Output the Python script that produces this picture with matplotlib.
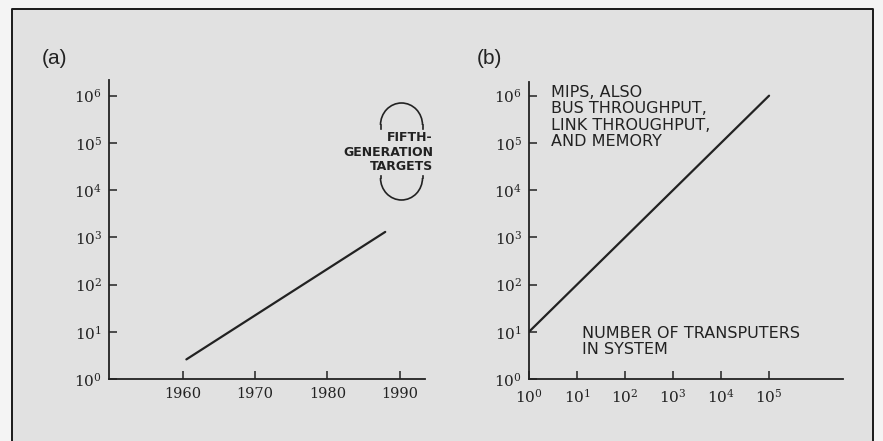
import numpy as np
import matplotlib
matplotlib.use("Agg")
import matplotlib.pyplot as plt
from matplotlib.patches import Rectangle, Arc

plt.rcParams['mathtext.fontset'] = 'dejavuserif'

# (a) performance against year
years_a = [1960.5, 1988]
perf_a = [2.6, 1300]
year_ticks = [1960, 1970, 1980, 1990]
year_labels = ['1960', '1970', '1980', '1990']

# (b) MIPS against number of transputers
transputers = [1, 1e5]
mips = [10, 1e6]
pow_ticks_x = [1, 1e1, 1e2, 1e3, 1e4, 1e5]
pow_labels_x = ['$10^{0}$', '$10^{1}$', '$10^{2}$', '$10^{3}$', '$10^{4}$', '$10^{5}$']

pow_ticks_y = [1, 1e1, 1e2, 1e3, 1e4, 1e5, 1e6]
pow_labels_y = ['$10^{0}$', '$10^{1}$', '$10^{2}$', '$10^{3}$', '$10^{4}$', '$10^{5}$', '$10^{6}$']

W, H = 883, 441
fig = plt.figure(figsize=(W / 100, H / 100), dpi=100, facecolor='#f4f4f4')

# background panel with the frame, in pixel coordinates
bg = fig.add_axes([0, 0, 1, 1], zorder=-1)
bg.set_xlim(0, W)
bg.set_ylim(H, 0)
bg.axis('off')
bg.add_patch(Rectangle((12, 9), 861, 440, facecolor='#e1e1e1', edgecolor='none'))
bg.plot([12, 12, 873, 873], [H, 9, 9, H], color='#1a1a1a', lw=1.4)

ink = '#222222'


def style_axes(ax):
    ax.set_facecolor('none')
    for s in ['top', 'right']:
        ax.spines[s].set_visible(False)
    for s in ['left', 'bottom']:
        ax.spines[s].set_linewidth(1.3)
        ax.spines[s].set_color(ink)
    ax.set_yscale('log')
    ax.minorticks_off()
    ax.set_yticks(pow_ticks_y)
    ax.set_yticklabels(pow_labels_y)
    ax.tick_params(axis='both', direction='in', length=6, width=1.1,
                   color=ink, labelcolor=ink, labelsize=11)
    ax.tick_params(axis='y', pad=5)
    ax.tick_params(axis='x', pad=6)


ax1 = fig.add_axes([109 / W, 1 - 379 / H, (425 - 109) / W, (379 - 80) / H])
style_axes(ax1)
ax1.set_xlim(1949.8, 1993.5)
ax1.set_ylim(1, 10 ** 6.33)
ax1.set_xticks(year_ticks)
ax1.set_xticklabels(year_labels, family='DejaVu Serif', fontsize=10.5)
ax1.minorticks_off()
ax1.plot(years_a, perf_a, color=ink, lw=1.6, solid_capstyle='round')

ax2 = fig.add_axes([529 / W, 1 - 379 / H, (843 - 529) / W, (379 - 82) / H])
style_axes(ax2)
ax2.set_xscale('log')
ax2.set_xlim(1, 10 ** 6.54)
ax2.set_ylim(1, 10 ** 6.29)
ax2.set_xticks(pow_ticks_x)
ax2.set_xticklabels(pow_labels_x)
ax2.minorticks_off()
ax2.plot(transputers, mips, color=ink, lw=1.6, solid_capstyle='round')

# panel letters
fig.text(42 / W, 1 - 58 / H, '(a)', fontsize=15, family='Liberation Sans',
         color=ink, va='center', ha='left')
fig.text(477 / W, 1 - 58 / H, '(b)', fontsize=15, family='Liberation Sans',
         color=ink, va='center', ha='left')

# annotations in (b)
fig.text(551 / W, 1 - 85 / H, 'MIPS, ALSO\nBUS THROUGHPUT,\nLINK THROUGHPUT,\nAND MEMORY',
         fontsize=11.5, family='DejaVu Sans', color=ink, va='top', ha='left',
         linespacing=1.12)
fig.text(582 / W, 1 - 326 / H, 'NUMBER OF TRANSPUTERS\nIN SYSTEM',
         fontsize=11.5, family='DejaVu Sans', color=ink, va='top', ha='left',
         linespacing=1.05)

# fifth-generation target bracket in (a)
bg.text(433, 152, 'FIFTH-\nGENERATION\nTARGETS', fontsize=9, family='DejaVu Sans',
        weight='bold', color=ink, ha='right', va='center', multialignment='right',
        linespacing=1.15)
cx, rx, ry = 401.5, 21, 22
bg.add_patch(Arc((cx, 125), 2 * rx, 2 * ry, theta1=180, theta2=360, color=ink, lw=1.2))
bg.plot([cx - rx, cx - rx], [125, 129], color=ink, lw=1.2)
bg.plot([cx + rx, cx + rx], [125, 129], color=ink, lw=1.2)
bg.add_patch(Arc((cx, 178), 2 * rx, 2 * ry, theta1=0, theta2=180, color=ink, lw=1.2))
bg.plot([cx - rx, cx - rx], [176, 178], color=ink, lw=1.2)
bg.plot([cx + rx, cx + rx], [176, 178], color=ink, lw=1.2)

fig.savefig('out.png', dpi=100, facecolor=fig.get_facecolor())
